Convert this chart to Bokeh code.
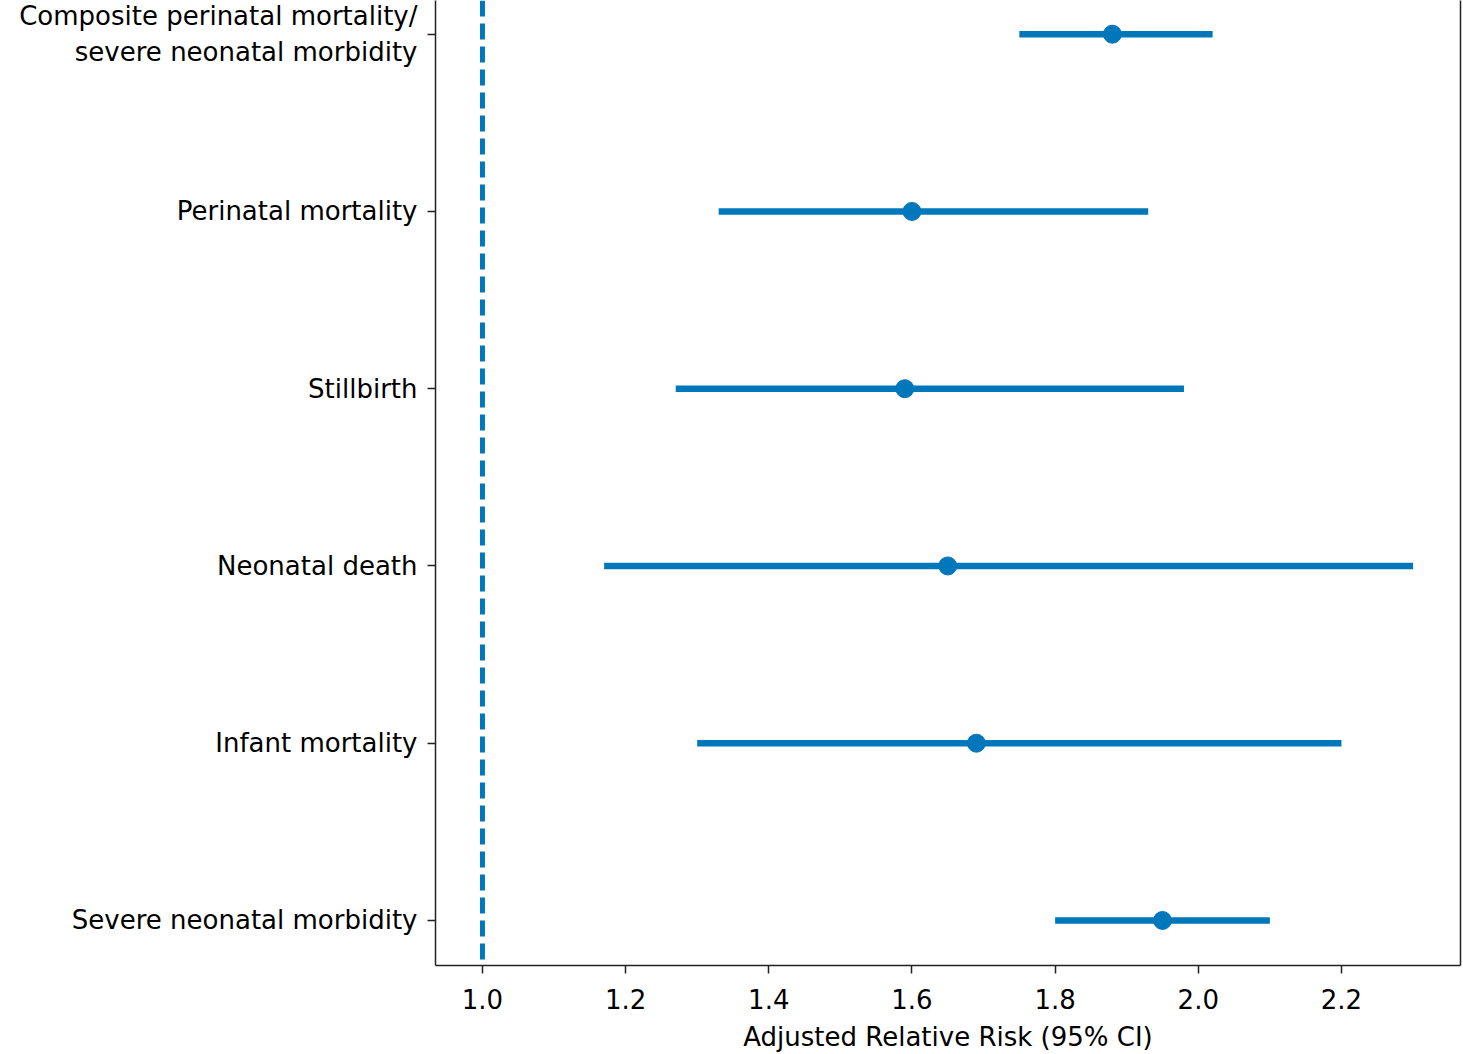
from bokeh.plotting import figure
from bokeh.models import Range1d, FixedTicker, LinearAxis, Span, ColumnDataSource, NumeralTickFormatter
from bokeh.embed import file_html
from bokeh.resources import INLINE

outcomes = ["Composite perinatal mortality/\nsevere neonatal morbidity",
            "Perinatal mortality", "Stillbirth", "Neonatal death",
            "Infant mortality", "Severe neonatal morbidity"]
rr = [1.88, 1.60, 1.59, 1.65, 1.69, 1.95]
ci_low = [1.75, 1.33, 1.27, 1.17, 1.30, 1.80]
ci_high = [2.02, 1.93, 1.98, 2.30, 2.20, 2.10]
x_ticks = [1.0, 1.2, 1.4, 1.6, 1.8, 2.0, 2.2]

n = len(outcomes)
ypos = [n - 1 - i for i in range(n)]
src = ColumnDataSource(dict(y=ypos, rr=rr, lo=ci_low, hi=ci_high))

COLOR = "#0077BB"
FONT = "DejaVu Sans"

p = figure(width=1463, height=1054, output_backend="svg", toolbar_location=None,
           x_range=Range1d(0.9344, 2.3663), y_range=Range1d(-0.254, 5.19),
           min_border_left=435, min_border_right=3, min_border_top=0, min_border_bottom=88)
p.outline_line_color = None
p.grid.visible = False
p.background_fill_color = "white"
p.border_fill_color = "white"

p.add_layout(Span(location=1.0, dimension="height", line_color=COLOR,
                  line_width=5, line_dash="16 7"))
p.segment(x0="lo", x1="hi", y0="y", y1="y", source=src, line_color=COLOR, line_width=6.5)
p.scatter(x="rr", y="y", source=src, size=18, color=COLOR)

xa = p.xaxis[0]
xa.ticker = FixedTicker(ticks=x_ticks)
xa.formatter = NumeralTickFormatter(format="0.0")
xa.axis_label = "Adjusted Relative Risk (95% CI)"
ya = p.yaxis[0]
ya.ticker = FixedTicker(ticks=ypos)
ya.major_label_overrides = {y: lab for y, lab in zip(ypos, outcomes)}

for ax in (xa, ya):
    ax.axis_line_color = "#222222"
    ax.axis_line_width = 1.5
    ax.major_tick_line_color = "#222222"
    ax.major_tick_line_width = 1.5
    ax.major_tick_out = 8
    ax.major_tick_in = 0
    ax.minor_tick_line_color = None
    ax.major_label_text_font = FONT
    ax.major_label_text_font_size = "26px"
    ax.major_label_text_color = "black"
    ax.major_label_standoff = 10
    ax.axis_label_text_font = FONT
    ax.axis_label_text_font_size = "26px"
    ax.axis_label_text_font_style = "normal"
    ax.axis_label_text_color = "black"
xa.major_label_standoff = 15
xa.axis_label_standoff = 10

ra = LinearAxis(ticker=FixedTicker(ticks=[]), major_label_text_font_size="0px",
                axis_line_color="#222222", axis_line_width=1.5,
                major_tick_line_color=None, minor_tick_line_color=None)
p.add_layout(ra, "right")

open("out.html", "w").write(file_html(p, INLINE))
